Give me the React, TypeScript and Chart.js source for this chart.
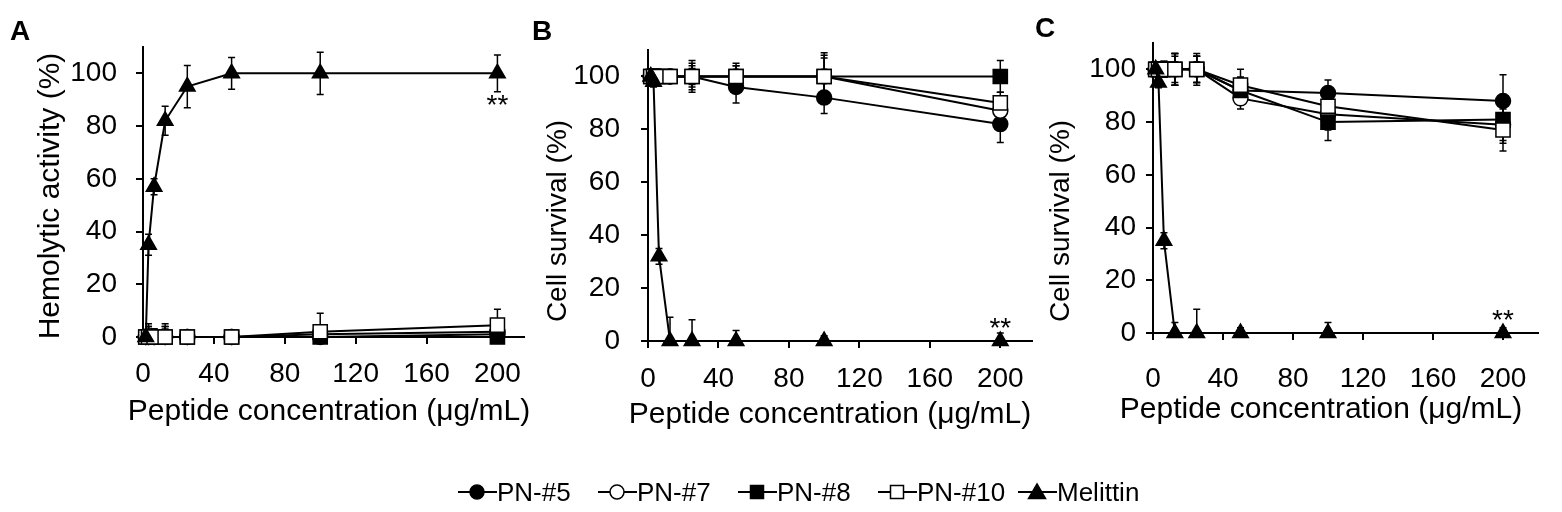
import { useEffect, useRef } from "react";
import { Chart, registerables } from "chart.js";

Chart.register(...registerables);

const W = 1562;
const H = 512;

// concentrations tested (µg/mL)
const CONCENTRATIONS = [1.56, 3.13, 6.25, 12.5, 25, 50, 100, 200];
const X_TICKS = [0, 40, 80, 120, 160, 200];
const Y_TICKS = [0, 20, 40, 60, 80, 100];
const SERIES = ["PN-#5", "PN-#7", "PN-#8", "PN-#10", "Melittin"];

// A: hemolytic activity (%)
const A_PN5 = [0, 0, 0, 0, 0, 0, 0, 1];
const A_PN7 = [0, 0, 0, 0, 0, 0, 1, 2];
const A_PN8 = [0, 0, 0, 0, 0, 0, 0, 0];
const A_PN10 = [0, 0, 0, 0, 0, 0, 2, 4.5];
const A_MEL = [0, 35, 57, 82, 95, 100, 100, 100];
const A_PN5_ERR = [1, 4, 3, 4, 2, 1, 3, 3];
const A_PN7_ERR = [1, 5, 3, 5, 2, 1, 3, 4];
const A_PN8_ERR = [1, 3, 2, 3, 1, 1, 2, 2];
const A_PN10_ERR = [1, 4, 3, 4, 1, 1, 7, 6];
const A_MEL_ERR = [0, 4, 3, 5.5, 8, 6, 8, 7];

// B: cell survival (%)
const B_PN5 = [100, 100, 100, 100, 100, 96, 92, 82];
const B_PN7 = [100, 100, 100, 100, 100, 100, 100, 87];
const B_PN8 = [100, 100, 100, 100, 100, 100, 100, 100];
const B_PN10 = [100, 100, 100, 100, 100, 100, 100, 90];
const B_MEL = [100, 98, 32, 0, 0, 0, 0, 0];
const B_PN5_ERR = [1, 1, 2, 2, 4, 6, 6, 7];
const B_PN7_ERR = [1, 1, 2, 2, 5, 4, 8, 5];
const B_PN8_ERR = [1, 1, 2, 2, 3, 5, 9, 6];
const B_PN10_ERR = [1, 1, 2, 2, 6, 4, 7, 4];
const B_MEL_ERR = [1, 2, 3, 9, 8, 4, 2, 3];

// C: cell survival (%)
const C_PN5 = [100, 100, 100, 100, 100, 92, 91, 88];
const C_PN7 = [100, 100, 100, 100, 100, 89, 83, 79];
const C_PN8 = [100, 100, 100, 100, 100, 92, 80, 81];
const C_PN10 = [100, 100, 100, 100, 100, 94, 86, 77];
const C_MEL = [100, 95, 35, 0, 0, 0, 0, 0];
const C_PN5_ERR = [1, 2, 3, 6, 5, 5, 5, 10];
const C_PN7_ERR = [1, 2, 3, 6, 5, 4, 6, 7];
const C_PN8_ERR = [1, 2, 3, 5, 6, 5, 7, 8];
const C_PN10_ERR = [1, 2, 3, 6, 5, 6, 5, 8];
const C_MEL_ERR = [1, 2, 3, 4, 9, 2, 4, 2];

// "**" marks at 200 µg/mL (y value of the mark)
const STAR_Y = [89, 6, 6];

const FONT = '"Liberation Sans", Arial, sans-serif';
Chart.defaults.font.family = FONT;
Chart.defaults.color = "#000";

const POINT_STYLE = ["circle", "circle", "rect", "rect", "triangle"];
const POINT_FILL = ["#000", "#fff", "#000", "#fff", "#000"];
const POINT_RADIUS = [7.5, 7.5, 10, 10, 9];

type Panel = {
  letter: string;
  yTitle: string;
  values: number[][];
  errors: number[][];
  star: number;
  left: number;
  right: number;
  top: number;
  zeroY: number;
  xMax: number;
  yTickPad: number;
  xTickPad: number;
  letterPos: [number, number];
  yTitlePos: [number, number];
  yTitleSize: number;
  xTitlePos: [number, number];
};

const PANELS: Panel[] = [
  {
    letter: "A",
    yTitle: "Hemolytic activity (%)",
    values: [A_PN5, A_PN7, A_PN8, A_PN10, A_MEL],
    errors: [A_PN5_ERR, A_PN7_ERR, A_PN8_ERR, A_PN10_ERR, A_MEL_ERR],
    star: STAR_Y[0],
    left: 143,
    right: 524,
    top: 47,
    zeroY: 337,
    xMax: 215,
    yTickPad: 19,
    xTickPad: 13,
    letterPos: [10, 40],
    yTitlePos: [51, 196],
    yTitleSize: 30,
    xTitlePos: [329, 412],
  },
  {
    letter: "B",
    yTitle: "Cell survival (%)",
    values: [B_PN5, B_PN7, B_PN8, B_PN10, B_MEL],
    errors: [B_PN5_ERR, B_PN7_ERR, B_PN8_ERR, B_PN10_ERR, B_MEL_ERR],
    star: STAR_Y[1],
    left: 648,
    right: 1032,
    top: 50,
    zeroY: 341,
    xMax: 218,
    yTickPad: 21,
    xTickPad: 14,
    letterPos: [532, 40],
    yTitlePos: [558, 221],
    yTitleSize: 28,
    xTitlePos: [830, 415],
  },
  {
    letter: "C",
    yTitle: "Cell survival (%)",
    values: [C_PN5, C_PN7, C_PN8, C_PN10, C_MEL],
    errors: [C_PN5_ERR, C_PN7_ERR, C_PN8_ERR, C_PN10_ERR, C_MEL_ERR],
    star: STAR_Y[2],
    left: 1153,
    right: 1538,
    top: 43,
    zeroY: 333,
    xMax: 220,
    yTickPad: 10,
    xTickPad: 22,
    letterPos: [1035, 37],
    yTitlePos: [1061, 221],
    yTitleSize: 28,
    xTitlePos: [1321, 410],
  },
];

function makeChart(canvas: HTMLCanvasElement, p: Panel) {
  // error bars under the lines, texts on top
  const decor = {
    id: "decor",
    beforeDatasetsDraw(chart: any) {
      const { ctx, chartArea, scales } = chart;
      ctx.save();
      ctx.beginPath();
      ctx.rect(chartArea.left - 20, chartArea.top, chartArea.width + 40, chartArea.height);
      ctx.clip();
      ctx.strokeStyle = "#000";
      ctx.lineWidth = 1.5;
      chart.data.datasets.forEach((ds: any) => {
        ds.data.forEach((pt: any, i: number) => {
          const e = ds.errors[i];
          if (!e) return;
          const px = scales.x.getPixelForValue(pt.x);
          const hi = scales.y.getPixelForValue(pt.y + e);
          const lo = scales.y.getPixelForValue(pt.y - e);
          ctx.beginPath();
          ctx.moveTo(px, hi);
          ctx.lineTo(px, lo);
          ctx.moveTo(px - 3.5, hi);
          ctx.lineTo(px + 3.5, hi);
          ctx.moveTo(px - 3.5, lo);
          ctx.lineTo(px + 3.5, lo);
          ctx.stroke();
        });
      });
      ctx.restore();
    },
    afterDraw(chart: any) {
      const { ctx, scales } = chart;
      ctx.save();
      ctx.fillStyle = "#000";
      ctx.font = `bold 28px ${FONT}`;
      ctx.textAlign = "left";
      ctx.textBaseline = "alphabetic";
      ctx.fillText(p.letter, p.letterPos[0], p.letterPos[1]);

      ctx.font = `30px ${FONT}`;
      ctx.textAlign = "center";
      ctx.textBaseline = "middle";
      ctx.fillText("Peptide concentration (μg/mL)", p.xTitlePos[0], p.xTitlePos[1]);

      ctx.save();
      ctx.translate(p.yTitlePos[0], p.yTitlePos[1]);
      ctx.rotate(-Math.PI / 2);
      ctx.font = `${p.yTitleSize}px ${FONT}`;
      ctx.fillText(p.yTitle, 0, 0);
      ctx.restore();

      ctx.font = `28px ${FONT}`;
      ctx.textBaseline = "alphabetic";
      ctx.fillText("**", scales.x.getPixelForValue(200), scales.y.getPixelForValue(p.star) + 12);
      ctx.restore();
    },
  };

  return new Chart(canvas, {
    type: "line",
    data: {
      datasets: SERIES.map((name, s) => ({
        label: name,
        data: CONCENTRATIONS.map((c, i) => ({ x: c, y: p.values[s][i] })),
        errors: p.errors[s],
        order: SERIES.length - s,
        borderColor: "#000",
        borderWidth: 2,
        tension: 0,
        fill: false,
        clip: false as any,
        pointStyle: POINT_STYLE[s] as any,
        pointRadius: POINT_RADIUS[s],
        pointHoverRadius: POINT_RADIUS[s],
        pointBackgroundColor: POINT_FILL[s],
        pointBorderColor: "#000",
        pointBorderWidth: 1.5,
      })) as any,
    },
    options: {
      animation: false,
      responsive: true,
      maintainAspectRatio: false,
      events: [],
      layout: { padding: { left: 0, top: p.top, right: W - p.right, bottom: 0 } },
      plugins: { legend: { display: false }, tooltip: { enabled: false } },
      scales: {
        x: {
          type: "linear",
          min: 0,
          max: p.xMax,
          afterBuildTicks: (scale: any) => {
            scale.ticks = X_TICKS.map((v) => ({ value: v }));
          },
          afterFit: (scale: any) => {
            scale.height = H - p.zeroY;
          },
          grid: { drawOnChartArea: false, tickLength: 7, color: "#000", lineWidth: 2 },
          border: { display: true, color: "#000", width: 2 },
          ticks: { padding: p.xTickPad, font: { size: 28 }, maxRotation: 0, autoSkip: false, color: "#000" },
        },
        y: {
          type: "linear",
          min: 0,
          max: 110,
          afterBuildTicks: (scale: any) => {
            scale.ticks = Y_TICKS.map((v) => ({ value: v }));
          },
          afterFit: (scale: any) => {
            scale.width = p.left;
          },
          grid: { drawOnChartArea: false, tickLength: 7, color: "#000", lineWidth: 2 },
          border: { display: true, color: "#000", width: 2 },
          ticks: { padding: p.yTickPad, font: { size: 28 }, color: "#000" },
        },
      },
    },
    plugins: [decor],
  } as any);
}

function LegendMark({ s }: { s: number }) {
  const fill = POINT_FILL[s];
  let mark;
  if (POINT_STYLE[s] === "circle") {
    mark = <circle cx={19} cy={12} r={7} fill={fill} stroke="#000" strokeWidth={1.5} />;
  } else if (POINT_STYLE[s] === "rect") {
    mark = <rect x={12.5} y={5.5} width={13} height={13} fill={fill} stroke="#000" strokeWidth={1.5} />;
  } else {
    mark = <polygon points="19,4 27.5,18.5 10.5,18.5" fill={fill} stroke="#000" strokeWidth={1.5} />;
  }
  return (
    <svg width={39} height={24} style={{ display: "block" }}>
      <line x1={0} y1={12} x2={39} y2={12} stroke="#000" strokeWidth={2} />
      {mark}
    </svg>
  );
}

export default function App() {
  const refs = [useRef<HTMLCanvasElement | null>(null), useRef<HTMLCanvasElement | null>(null), useRef<HTMLCanvasElement | null>(null)];

  useEffect(() => {
    const charts = PANELS.map((p, i) => makeChart(refs[i].current as HTMLCanvasElement, p));
    return () => {
      charts.forEach((c) => c.destroy());
    };
  }, []);

  return (
    <div style={{ position: "absolute", left: 0, top: 0, width: W, height: H, background: "#fff", overflow: "hidden" }}>
      {PANELS.map((p, i) => (
        <div key={p.letter} style={{ position: "absolute", left: 0, top: 0, width: W, height: H }}>
          <canvas ref={refs[i]}></canvas>
        </div>
      ))}
      <div
        style={{
          position: "absolute",
          left: 458,
          top: 479,
          display: "flex",
          fontFamily: FONT,
          fontSize: 26,
          lineHeight: "26px",
          color: "#000",
        }}
      >
        {SERIES.map((name, s) => (
          <div key={name} style={{ width: 140, display: "flex", alignItems: "center" }}>
            <LegendMark s={s} />
            <span>{name}</span>
          </div>
        ))}
      </div>
    </div>
  );
}
